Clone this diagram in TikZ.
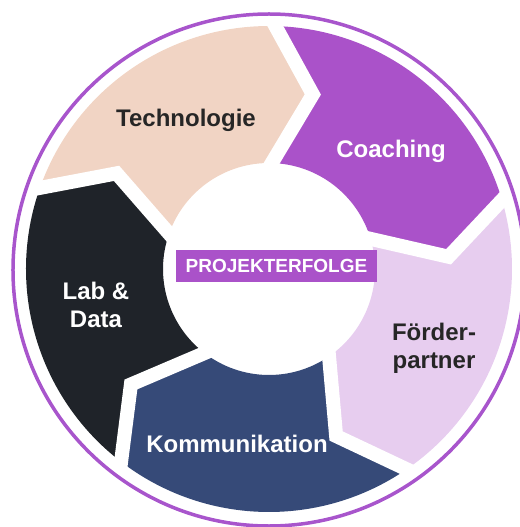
\documentclass[tikz,border=0pt]{standalone}
\usepackage{fontspec}
\setmainfont{Liberation Sans}
\usetikzlibrary{calc}
\definecolor{peach}{HTML}{F1D4C4}
\definecolor{coach}{HTML}{AA52C9}
\definecolor{lav}{HTML}{E7CDEF}
\definecolor{navy}{HTML}{364A78}
\definecolor{darkseg}{HTML}{1F2329}
\definecolor{ringline}{HTML}{A855CC}
\definecolor{txtdark}{HTML}{262626}
\tikzset{
  seglabel/.style={font=\bfseries\fontsize{24}{28}\selectfont, align=center, inner sep=0pt, anchor=base},
  gapline/.style={white, line width=14, line join=miter, miter limit=20},
}
\begin{document}
\begin{tikzpicture}[x=1pt,y=1pt]
\useasboundingbox (-269,-258) rectangle (250,269);
% ring segments (clockwise arrows)
\foreach \a/\c in {88.5/coach, 16.5/lav, -55.5/navy, -127.5/darkseg, -199.5/peach}{
  \fill[\c] (\a:243) arc[start angle=\a, end angle=\a-72, radius=243]
    -- (\a-84.6:180) -- (\a-72:106)
    arc[start angle=\a-72, end angle=\a, radius=106]
    -- (\a-12.6:180) -- cycle;
}
% white gaps
\foreach \a in {88.5, 16.5, -55.5, -127.5, -199.5}{
  \draw[gapline] ($(\a-12.6:180)!1.1!(\a:243)$) -- (\a-12.6:180) -- ($(\a-12.6:180)!1.2!(\a:106)$);
}
% outer circle
\draw[ringline, line width=3.5] (0,-1) circle (256);
% labels
\node[seglabel, text=txtdark] (tech) at (-83,142) {Technologie};
\node[seglabel, text=white] (coaching) at (122,111) {Coaching};
\node[seglabel, text=txtdark] (foerder) at (165,-99) {Förder-\\partner};
\node[seglabel, text=white] (komm) at (-32,-183) {Kommunikation};
\node[seglabel, text=white] (lab) at (-173,-58) {Lab \&\\Data};
\node[fill=coach, minimum width=201, minimum height=32, inner sep=0pt,
      text=white, font=\bfseries\fontsize{19}{22}\selectfont] (center) at (7.5,3) {PROJEKTERFOLGE};
\end{tikzpicture}
\end{document}
